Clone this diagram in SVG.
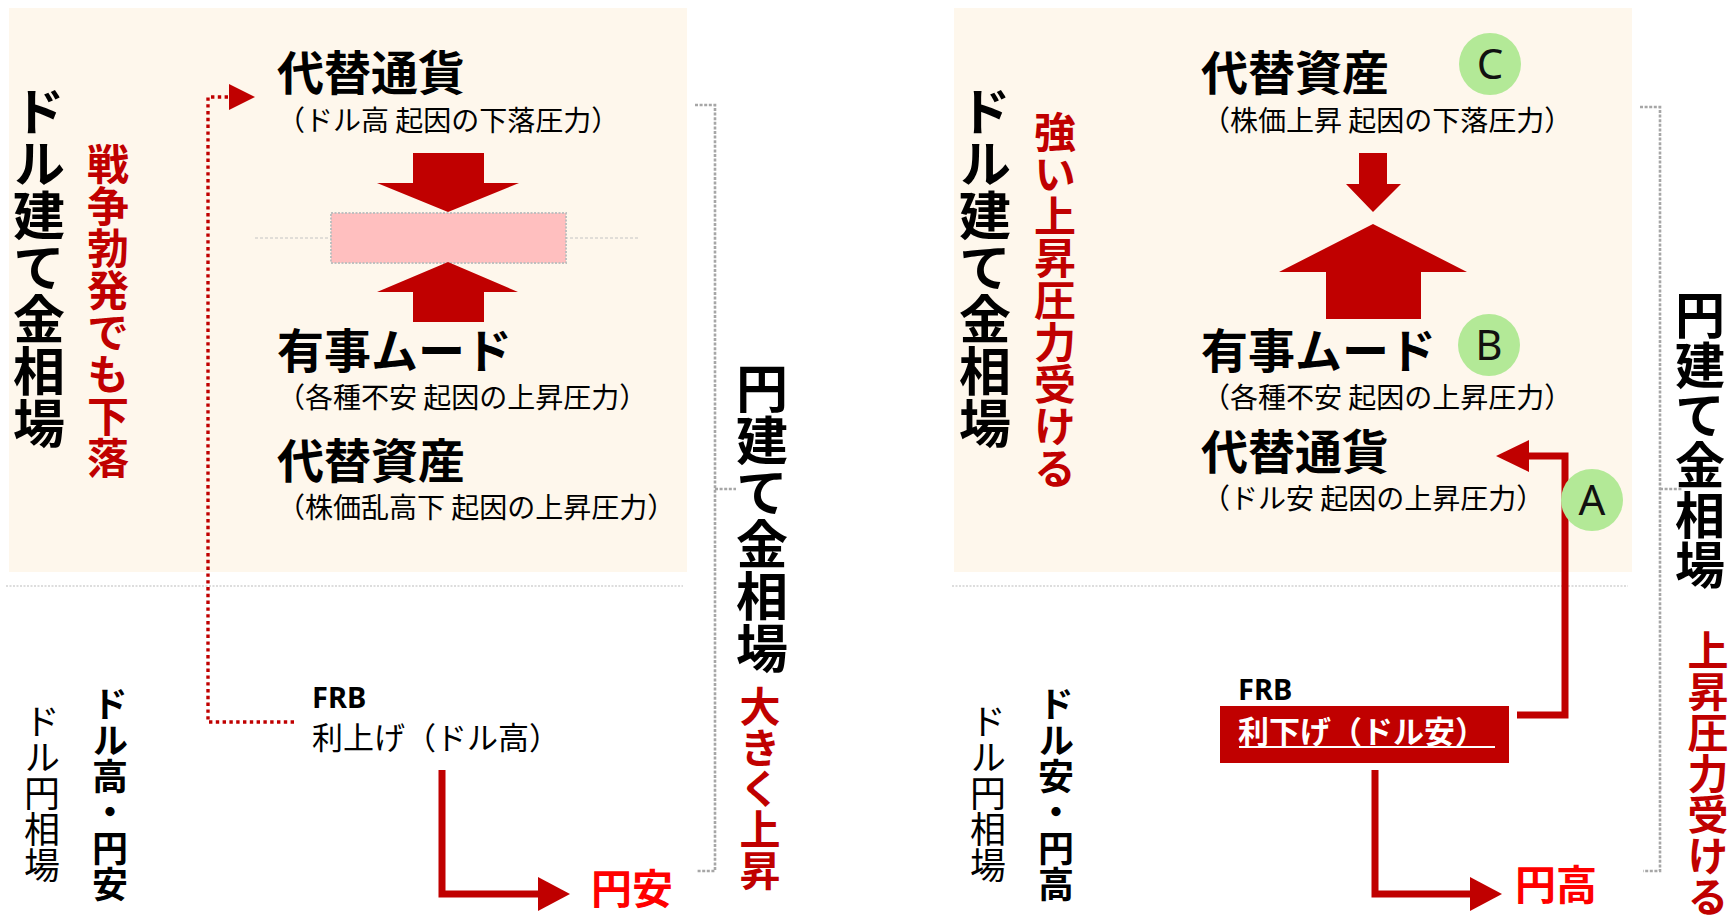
<svg xmlns="http://www.w3.org/2000/svg" width="1735" height="921" viewBox="0 0 1735 921">
<defs>
<style>
text{font-family:"Noto Sans CJK JP","Noto Sans",sans-serif;fill:#000}
.t{font-size:47px;font-weight:700}
.s{font-size:28px;font-weight:400}
.v{writing-mode:vertical-rl}
.vb52{font-size:52px;font-weight:700}
.vb50{font-size:50px;font-weight:700}
.vr42{font-size:42px;font-weight:700;fill:#C00000}
.vr41{font-size:41px;font-weight:700;fill:#C00000}
.vb36{font-size:36px;font-weight:700}
.vn36{font-size:36px;font-weight:400}
.frb{font-family:"Noto Sans","Noto Sans CJK JP",sans-serif;font-size:29px;font-weight:700}
.yen{font-size:41px;font-weight:700;fill:#FF0000}
.panel{fill:#FEF7EC}
.arrow{fill:#C00000}
.conn{fill:none;stroke:#C00000;stroke-width:7}
.dotred{fill:none;stroke:#C00000;stroke-width:3.4;stroke-dasharray:3.4 3.4}
.brk{fill:none;stroke:#A6A6A6;stroke-width:2.6;stroke-dasharray:3 1.6}
.sep{fill:none;stroke:#DDDDDD;stroke-width:2;stroke-dasharray:2 1.5}
.circ{fill:#B3E997}
.lbl{font-family:"Noto Sans",sans-serif;font-size:42px;font-weight:400;fill:#111;text-anchor:middle}
</style>
</defs>

<!-- panels -->
<g id="left-panel">
<rect class="panel" x="9" y="8" width="678" height="564"/>
<line class="sep" x1="6" y1="586" x2="683" y2="586"/>
</g>
<g id="right-panel">
<rect class="panel" x="954" y="8" width="678" height="564"/>
<line class="sep" x1="952" y1="586" x2="1628" y2="586"/>
</g>

<!-- left side nodes -->
<g id="left-title">
<text class="v vb52" x="39" y="85">ドル建て金相場</text>
</g>
<g id="left-red-title">
<text class="v vr42" x="108" y="143">戦争勃発でも下落</text>
</g>
<g id="left-alt-currency">
<text class="t" x="277" y="90">代替通貨</text>
<text class="s" x="277" y="131">（ドル高 起因の下落圧力）</text>
</g>
<g id="left-balance">
<line x1="255" y1="238" x2="639" y2="238" stroke="#C4C4C4" stroke-width="1" stroke-dasharray="3 2"/>
<rect x="331" y="213" width="235" height="50" fill="#FFBFBF" stroke="#BFBFBF" stroke-width="2" stroke-dasharray="2 1.5"/>
<polygon class="arrow" points="413,153 484,153 484,183 519,183 448,212 377,183 413,183"/>
<polygon class="arrow" points="448,262 518,292 484,292 484,322 413,322 413,292 377,292"/>
</g>
<g id="left-crisis">
<text class="t" x="277" y="368">有事ムード</text>
<text class="s" x="277" y="408">（各種不安 起因の上昇圧力）</text>
</g>
<g id="left-alt-asset">
<text class="t" x="277" y="478">代替資産</text>
<text class="s" x="277" y="518">（株価乱高下 起因の上昇圧力）</text>
</g>
<g id="left-fx">
<text class="v vn36" x="42" y="703">ドル円相場</text>
<text class="v vb36" x="110" y="686">ドル高・円安</text>
</g>
<g id="left-frb">
<text class="frb" x="312" y="708">FRB</text>
<text x="312" y="749" style="font-size:31px">利上げ（ドル高）</text>
</g>
<g id="left-yen">
<text class="yen" x="591" y="904">円安</text>
</g>
<g id="left-yen-gold">
<text class="v vb52" x="762" y="362">円建て金相場</text>
<text class="v vr41" x="760" y="686">大きく上昇</text>
</g>

<!-- right side nodes -->
<g id="right-title">
<text class="v vb52" x="985" y="85">ドル建て金相場</text>
</g>
<g id="right-red-title">
<text class="v vr42" x="1055" y="111">強い上昇圧力受ける</text>
</g>
<g id="right-alt-asset">
<text class="t" x="1201" y="90">代替資産</text>
<text class="s" x="1202" y="131">（株価上昇 起因の下落圧力）</text>
<circle class="circ" cx="1490" cy="64" r="31"/>
<text class="lbl" x="1490" y="79">C</text>
</g>
<g id="right-balance">
<polygon class="arrow" points="1359,153 1387,153 1387,184 1401,184 1373,212 1346,184 1359,184"/>
<polygon class="arrow" points="1373,224 1467,272 1421,272 1421,319 1326,319 1326,272 1279,272"/>
</g>
<g id="right-crisis">
<text class="t" x="1201" y="368">有事ムード</text>
<text class="s" x="1202" y="408">（各種不安 起因の上昇圧力）</text>
<circle class="circ" cx="1489" cy="345" r="31"/>
<text class="lbl" x="1489" y="360">B</text>
</g>
<g id="right-alt-currency">
<text class="t" x="1201" y="469">代替通貨</text>
<text class="s" x="1202" y="509">（ドル安 起因の上昇圧力）</text>
</g>
<g id="right-fx">
<text class="v vn36" x="988" y="703">ドル円相場</text>
<text class="v vb36" x="1056" y="686">ドル安・円高</text>
</g>
<g id="right-frb">
<text class="frb" x="1238" y="700">FRB</text>
<rect x="1220" y="706" width="289" height="57" fill="#C00000"/>
<text x="1238" y="743" style="font-size:31px;font-weight:700;fill:#fff">利下げ（ドル安）</text>
<line x1="1239" y1="747" x2="1495" y2="747" stroke="#fff" stroke-width="2"/>
</g>
<g id="right-yen">
<text class="yen" x="1515" y="900">円高</text>
</g>
<g id="right-yen-gold">
<text class="v vb50" x="1700" y="290">円建て金相場</text>
<text class="v vr41" x="1708" y="630">上昇圧力受ける</text>
</g>

<!-- connectors -->
<g id="connectors">
<polyline class="dotred" points="294,722 208,722 208,97 229,97"/>
<polygon class="arrow" points="229,84 255,97 229,110"/>
<polyline class="conn" points="442,770 442,894 538,894"/>
<polygon class="arrow" points="538,877 570,894 538,911"/>
<polyline class="conn" points="1517,715 1565,715 1565,456 1529,456"/>
<polygon class="arrow" points="1529,440 1496,456 1529,472"/>
<circle class="circ" cx="1592" cy="500" r="31"/>
<text class="lbl" x="1592" y="515">A</text>
<polyline class="conn" points="1375,770 1375,894 1470,894"/>
<polygon class="arrow" points="1470,877 1502,894 1470,911"/>
<polyline class="brk" points="695,105 715,105 715,871 696,871"/>
<line class="brk" x1="715" y1="489" x2="736" y2="489"/>
<polyline class="brk" points="1640,107 1660,107 1660,871 1643,871"/>
<line class="brk" x1="1660" y1="489" x2="1682" y2="489"/>
</g>
</svg>
